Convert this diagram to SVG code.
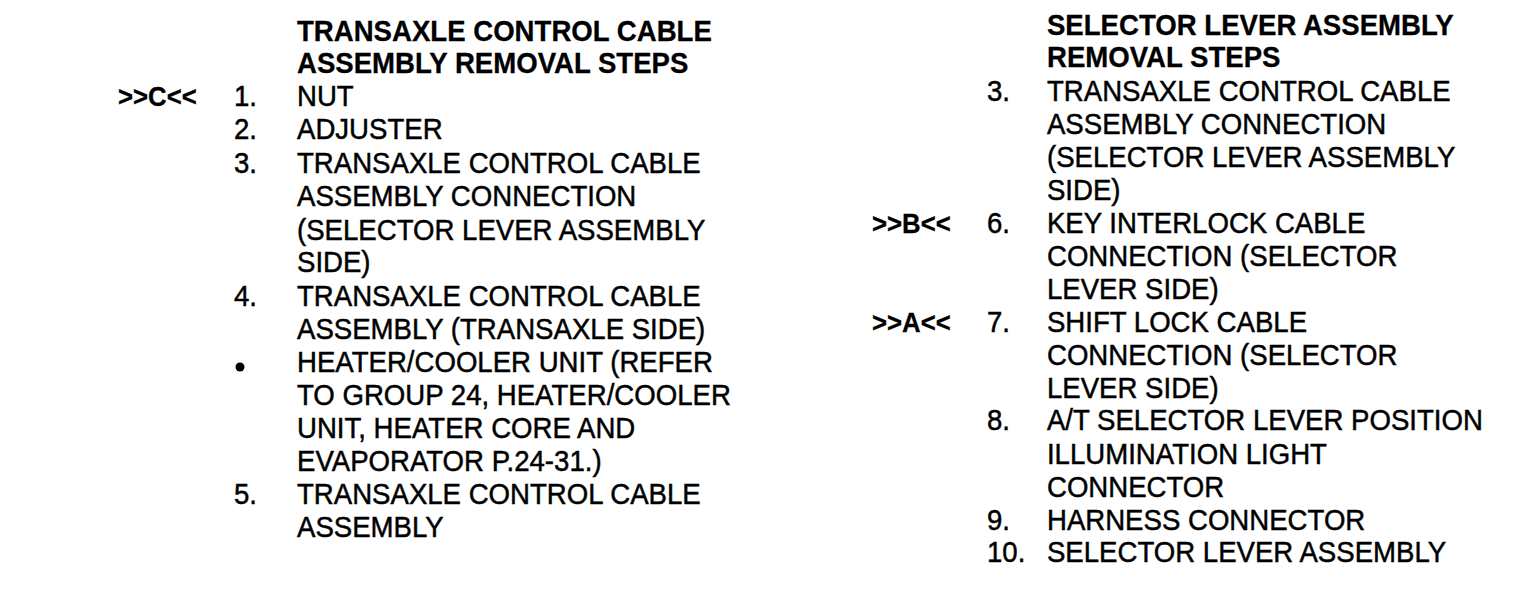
<svg xmlns="http://www.w3.org/2000/svg" width="1536" height="598" viewBox="0 0 1536 598">
<style>
text{font-family:"Liberation Sans",Arial,sans-serif;font-size:30px;fill:#000;stroke:#000;stroke-width:0.5}
.h{font-weight:bold;stroke-width:0.3}
.m{font-weight:bold;font-size:28px;stroke-width:0.3}
</style>
<rect width="1536" height="598" fill="#fff"/>
<g id="left-list" transform="scale(0.92,1)">
<text class="h" x="322.8" y="41">TRANSAXLE CONTROL CABLE</text>
<text class="h" x="322.8" y="73">ASSEMBLY REMOVAL STEPS</text>
<text class="m" x="128.3" y="106">&gt;&gt;C&lt;&lt;</text>
<text x="254.3" y="106">1.</text><text x="322.8" y="106">NUT</text>
<text x="254.3" y="139">2.</text><text x="322.8" y="139">ADJUSTER</text>
<text x="254.3" y="173">3.</text><text x="322.8" y="173">TRANSAXLE CONTROL CABLE</text>
<text x="322.8" y="206">ASSEMBLY CONNECTION</text>
<text x="322.8" y="240">(SELECTOR LEVER ASSEMBLY</text>
<text x="322.8" y="272">SIDE)</text>
<text x="254.3" y="306">4.</text><text x="322.8" y="306">TRANSAXLE CONTROL CABLE</text>
<text x="322.8" y="339">ASSEMBLY (TRANSAXLE SIDE)</text>
<text x="322.8" y="372">HEATER/COOLER UNIT (REFER</text>
<text x="322.8" y="405">TO GROUP 24, HEATER/COOLER</text>
<text x="322.8" y="438">UNIT, HEATER CORE AND</text>
<text x="322.8" y="471">EVAPORATOR P.24-31.)</text>
<text x="254.3" y="504">5.</text><text x="322.8" y="504">TRANSAXLE CONTROL CABLE</text>
<text x="322.8" y="537">ASSEMBLY</text>
</g>
<circle id="bullet" cx="240" cy="367" r="4.5" fill="#000"/>
<g id="right-list" transform="scale(0.92,1)">
<text class="h" x="1138" y="35">SELECTOR LEVER ASSEMBLY</text>
<text class="h" x="1138" y="67">REMOVAL STEPS</text>
<text x="1072.8" y="101">3.</text><text x="1138" y="101">TRANSAXLE CONTROL CABLE</text>
<text x="1138" y="134">ASSEMBLY CONNECTION</text>
<text x="1138" y="167">(SELECTOR LEVER ASSEMBLY</text>
<text x="1138" y="200">SIDE)</text>
<text class="m" x="947.8" y="233">&gt;&gt;B&lt;&lt;</text>
<text x="1072.8" y="233">6.</text><text x="1138" y="233">KEY INTERLOCK CABLE</text>
<text x="1138" y="266">CONNECTION (SELECTOR</text>
<text x="1138" y="299">LEVER SIDE)</text>
<text class="m" x="947.8" y="332">&gt;&gt;A&lt;&lt;</text>
<text x="1072.8" y="332">7.</text><text x="1138" y="332">SHIFT LOCK CABLE</text>
<text x="1138" y="365">CONNECTION (SELECTOR</text>
<text x="1138" y="398">LEVER SIDE)</text>
<text x="1072.8" y="430">8.</text><text x="1138" y="430">A/T SELECTOR LEVER POSITION</text>
<text x="1138" y="464">ILLUMINATION LIGHT</text>
<text x="1138" y="497">CONNECTOR</text>
<text x="1072.8" y="530">9.</text><text x="1138" y="530">HARNESS CONNECTOR</text>
<text x="1072.8" y="562">10.</text><text x="1138" y="562">SELECTOR LEVER ASSEMBLY</text>
</g>
</svg>
